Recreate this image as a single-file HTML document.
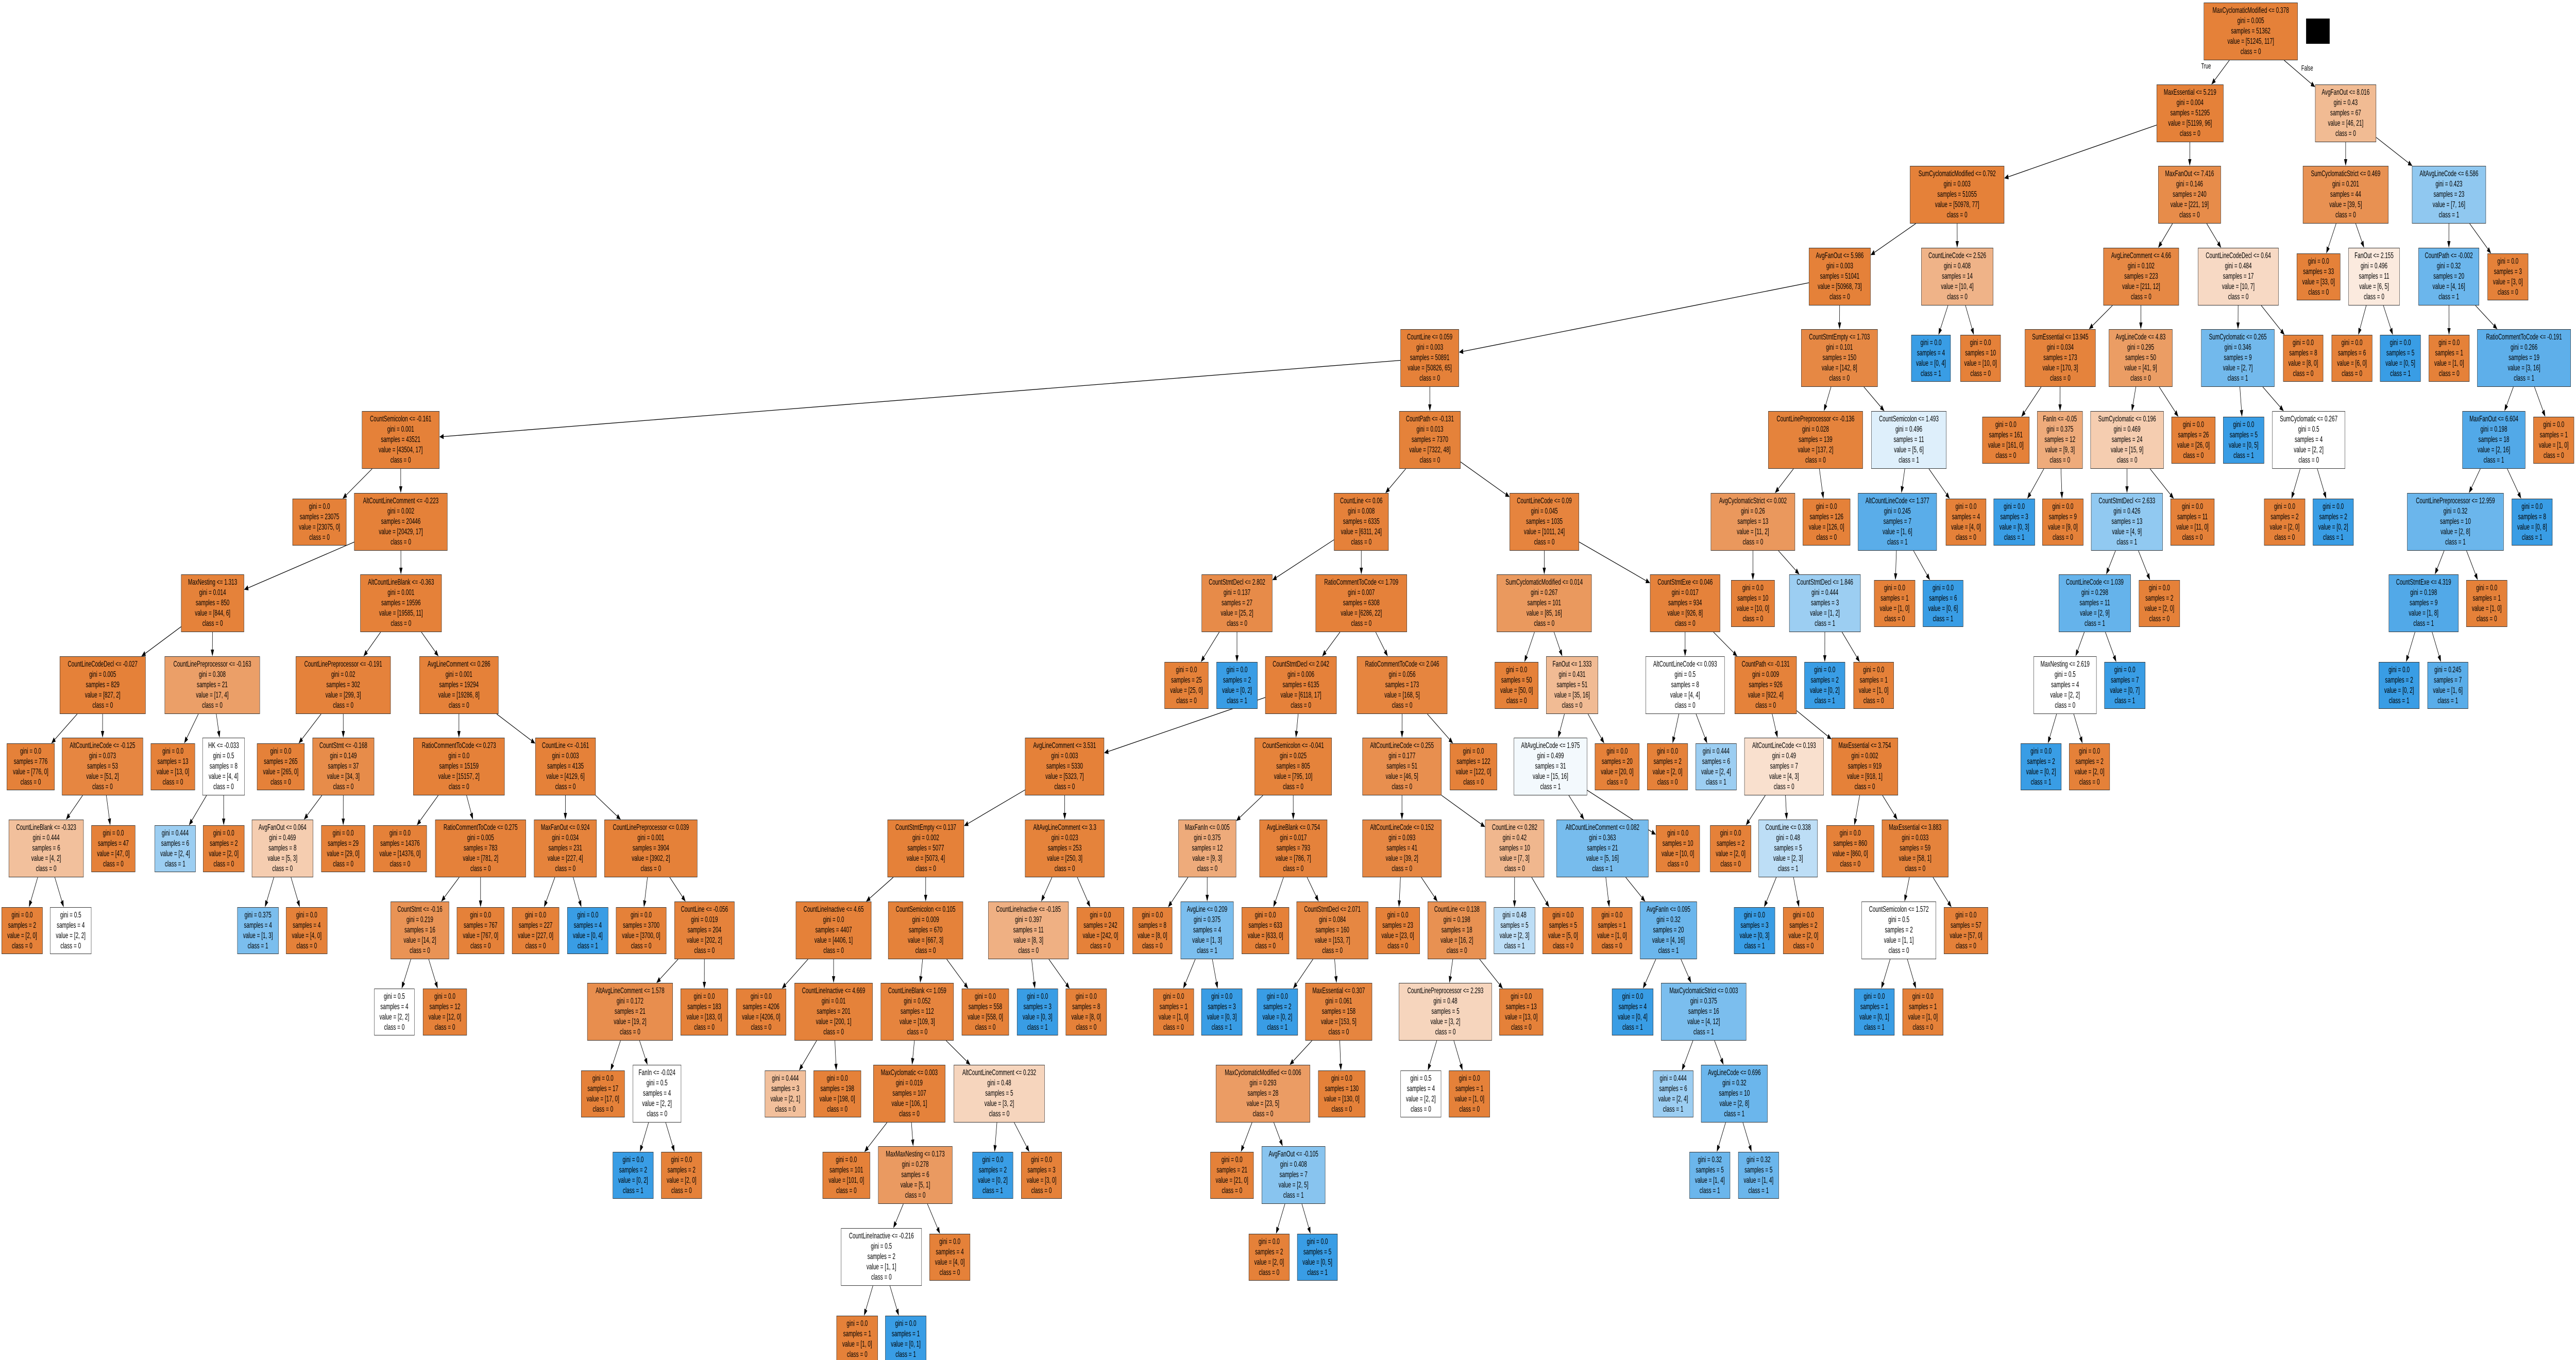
<!DOCTYPE html>
<html><head><meta charset="utf-8">
<style>
html,body{margin:0;padding:0;background:#fff;overflow:hidden}
#wrap{position:absolute;left:0;top:0;width:7979px;height:2640px;overflow:hidden;background:#fff;transform-origin:0 0}
.n,.l{position:absolute;box-sizing:border-box;border:1.4px solid #333;text-align:center;font:16px/20px "Liberation Sans",Arial,sans-serif;color:#000;white-space:nowrap;background:#e58139;padding-top:5px;z-index:2}
.n{height:112px}
.l{height:91px;margin-top:11px;padding-top:5px}
.d0{top:5px}.d1{top:164px}.d2{top:322px}.d3{top:481px}.d4{top:639px}.d5{top:798px}.d6{top:957px}.d7{top:1115px}.d8{top:1274px}.d9{top:1432px}.d10{top:1591px}.d11{top:1750px}.d12{top:1908px}.d13{top:2067px}.d14{top:2225px}.d15{top:2384px}.d16{top:2543px}
svg{position:absolute;left:0;top:0;z-index:1}
.lab{position:absolute;font:15px "Liberation Sans",Arial,sans-serif;z-index:3}
</style></head><body><div id="wrap">
<svg id="edges" width="7979" height="2640"></svg>
<div style="position:absolute;left:7143px;top:36px;width:73px;height:49px;background:#000"></div>
<div class="lab" style="left:6818px;top:120px">True</div>
<div class="lab" style="left:7128px;top:124px">False</div>

<div id="n0" class="n d0" style="left:6826px;width:291px">MaxCyclomaticModified &lt;= 0.378<br>gini = 0.005<br>samples = 51362<br>value = [51245, 117]<br>class = 0</div>
<div id="n1" class="n d1" style="left:6680px;width:207px">MaxEssential &lt;= 5.219<br>gini = 0.004<br>samples = 51295<br>value = [51199, 96]<br>class = 0</div>
<div id="n2" class="n d1" style="left:7171px;width:189px">AvgFanOut &lt;= 8.016<br>gini = 0.43<br>samples = 67<br>value = [46, 21]<br>class = 0</div>
<div id="n3" class="n d2" style="left:5916px;width:292px">SumCyclomaticModified &lt;= 0.792<br>gini = 0.003<br>samples = 51055<br>value = [50978, 77]<br>class = 0</div>
<div id="n4" class="n d2" style="left:6685px;width:194px">MaxFanOut &lt;= 7.416<br>gini = 0.146<br>samples = 240<br>value = [221, 19]<br>class = 0</div>
<div id="n5" class="n d2" style="left:7133px;width:265px">SumCyclomaticStrict &lt;= 0.469<br>gini = 0.201<br>samples = 44<br>value = [39, 5]<br>class = 0</div>
<div id="n6" class="n d2" style="left:7471px;width:229px">AltAvgLineCode &lt;= 6.586<br>gini = 0.423<br>samples = 23<br>value = [7, 16]<br>class = 1</div>
<div id="n7" class="n d3" style="left:5603px;width:191px">AvgFanOut &lt;= 5.986<br>gini = 0.003<br>samples = 51041<br>value = [50968, 73]<br>class = 0</div>
<div id="n8" class="n d3" style="left:5951px;width:223px">CountLineCode &lt;= 2.526<br>gini = 0.408<br>samples = 14<br>value = [10, 4]<br>class = 0</div>
<div id="n9" class="n d3" style="left:6515px;width:234px">AvgLineComment &lt;= 4.66<br>gini = 0.102<br>samples = 223<br>value = [211, 12]<br>class = 0</div>
<div id="n10" class="n d3" style="left:6808px;width:250px">CountLineCodeDecl &lt;= 0.64<br>gini = 0.484<br>samples = 17<br>value = [10, 7]<br>class = 0</div>
<div id="n11" class="l d3" style="left:7114px;width:135px">gini = 0.0<br>samples = 33<br>value = [33, 0]<br>class = 0</div>
<div id="n12" class="n d3" style="left:7274px;width:159px">FanOut &lt;= 2.155<br>gini = 0.496<br>samples = 11<br>value = [6, 5]<br>class = 0</div>
<div id="n13" class="n d3" style="left:7491px;width:188px">CountPath &lt;= -0.002<br>gini = 0.32<br>samples = 20<br>value = [4, 16]<br>class = 1</div>
<div id="n14" class="l d3" style="left:7705px;width:126px">gini = 0.0<br>samples = 3<br>value = [3, 0]<br>class = 0</div>
<div id="n15" class="n d4" style="left:5579px;width:237px">CountStmtEmpty &lt;= 1.703<br>gini = 0.101<br>samples = 150<br>value = [142, 8]<br>class = 0</div>
<div id="n16" class="n d4" style="left:4338px;width:181px">CountLine &lt;= 0.059<br>gini = 0.003<br>samples = 50891<br>value = [50826, 65]<br>class = 0</div>
<div id="n17" class="l d4" style="left:5920px;width:122px">gini = 0.0<br>samples = 4<br>value = [0, 4]<br>class = 1</div>
<div id="n18" class="l d4" style="left:6072px;width:125px">gini = 0.0<br>samples = 10<br>value = [10, 0]<br>class = 0</div>
<div id="n19" class="n d4" style="left:6272px;width:219px">SumEssential &lt;= 13.945<br>gini = 0.034<br>samples = 173<br>value = [170, 3]<br>class = 0</div>
<div id="n20" class="n d4" style="left:6532px;width:197px">AvgLineCode &lt;= 4.83<br>gini = 0.295<br>samples = 50<br>value = [41, 9]<br>class = 0</div>
<div id="n21" class="n d4" style="left:6818px;width:227px">SumCyclomatic &lt;= 0.265<br>gini = 0.346<br>samples = 9<br>value = [2, 7]<br>class = 1</div>
<div id="n22" class="l d4" style="left:7072px;width:124px">gini = 0.0<br>samples = 8<br>value = [8, 0]<br>class = 0</div>
<div id="n23" class="l d4" style="left:7222px;width:126px">gini = 0.0<br>samples = 6<br>value = [6, 0]<br>class = 0</div>
<div id="n24" class="l d4" style="left:7372px;width:126px">gini = 0.0<br>samples = 5<br>value = [0, 5]<br>class = 1</div>
<div id="n25" class="l d4" style="left:7523px;width:126px">gini = 0.0<br>samples = 1<br>value = [1, 0]<br>class = 0</div>
<div id="n26" class="n d4" style="left:7673px;width:290px">RatioCommentToCode &lt;= -0.191<br>gini = 0.266<br>samples = 19<br>value = [3, 16]<br>class = 1</div>
<div id="n27" class="n d5" style="left:4334px;width:190px">CountPath &lt;= -0.131<br>gini = 0.013<br>samples = 7370<br>value = [7322, 48]<br>class = 0</div>
<div id="n28" class="n d5" style="left:1121px;width:240px">CountSemicolon &lt;= -0.161<br>gini = 0.001<br>samples = 43521<br>value = [43504, 17]<br>class = 0</div>
<div id="n29" class="n d5" style="left:5477px;width:293px">CountLinePreprocessor &lt;= -0.136<br>gini = 0.028<br>samples = 139<br>value = [137, 2]<br>class = 0</div>
<div id="n30" class="n d5" style="left:5796px;width:233px">CountSemicolon &lt;= 1.493<br>gini = 0.496<br>samples = 11<br>value = [5, 6]<br>class = 1</div>
<div id="n31" class="l d5" style="left:6140px;width:146px">gini = 0.0<br>samples = 161<br>value = [161, 0]<br>class = 0</div>
<div id="n32" class="n d5" style="left:6310px;width:141px">FanIn &lt;= -0.05<br>gini = 0.375<br>samples = 12<br>value = [9, 3]<br>class = 0</div>
<div id="n33" class="n d5" style="left:6475px;width:227px">SumCyclomatic &lt;= 0.196<br>gini = 0.469<br>samples = 24<br>value = [15, 9]<br>class = 0</div>
<div id="n34" class="l d5" style="left:6726px;width:136px">gini = 0.0<br>samples = 26<br>value = [26, 0]<br>class = 0</div>
<div id="n35" class="l d5" style="left:6886px;width:127px">gini = 0.0<br>samples = 5<br>value = [0, 5]<br>class = 1</div>
<div id="n36" class="n d5" style="left:7038px;width:226px">SumCyclomatic &lt;= 0.267<br>gini = 0.5<br>samples = 4<br>value = [2, 2]<br>class = 0</div>
<div id="n37" class="n d5" style="left:7627px;width:195px">MaxFanOut &lt;= 6.604<br>gini = 0.198<br>samples = 18<br>value = [2, 16]<br>class = 1</div>
<div id="n38" class="l d5" style="left:7847px;width:126px">gini = 0.0<br>samples = 1<br>value = [1, 0]<br>class = 0</div>
<div id="n39" class="n d6" style="left:4132px;width:169px">CountLine &lt;= 0.06<br>gini = 0.008<br>samples = 6335<br>value = [6311, 24]<br>class = 0</div>
<div id="n40" class="n d6" style="left:4676px;width:215px">CountLineCode &lt;= 0.09<br>gini = 0.045<br>samples = 1035<br>value = [1011, 24]<br>class = 0</div>
<div id="n41" class="l d6" style="left:906px;width:167px">gini = 0.0<br>samples = 23075<br>value = [23075, 0]<br>class = 0</div>
<div id="n42" class="n d6" style="left:1097px;width:289px">AltCountLineComment &lt;= -0.223<br>gini = 0.002<br>samples = 20446<br>value = [20429, 17]<br>class = 0</div>
<div id="n43" class="n d6" style="left:5299px;width:261px">AvgCyclomaticStrict &lt;= 0.002<br>gini = 0.26<br>samples = 13<br>value = [11, 2]<br>class = 0</div>
<div id="n44" class="l d6" style="left:5584px;width:147px">gini = 0.0<br>samples = 126<br>value = [126, 0]<br>class = 0</div>
<div id="n45" class="n d6" style="left:5755px;width:244px">AltCountLineCode &lt;= 1.377<br>gini = 0.245<br>samples = 7<br>value = [1, 6]<br>class = 1</div>
<div id="n46" class="l d6" style="left:6027px;width:125px">gini = 0.0<br>samples = 4<br>value = [4, 0]<br>class = 0</div>
<div id="n47" class="l d6" style="left:6175px;width:128px">gini = 0.0<br>samples = 3<br>value = [0, 3]<br>class = 1</div>
<div id="n48" class="l d6" style="left:6326px;width:127px">gini = 0.0<br>samples = 9<br>value = [9, 0]<br>class = 0</div>
<div id="n49" class="n d6" style="left:6477px;width:222px">CountStmtDecl &lt;= 2.633<br>gini = 0.426<br>samples = 13<br>value = [4, 9]<br>class = 1</div>
<div id="n50" class="l d6" style="left:6723px;width:136px">gini = 0.0<br>samples = 11<br>value = [11, 0]<br>class = 0</div>
<div id="n51" class="l d6" style="left:7013px;width:127px">gini = 0.0<br>samples = 2<br>value = [2, 0]<br>class = 0</div>
<div id="n52" class="l d6" style="left:7164px;width:126px">gini = 0.0<br>samples = 2<br>value = [0, 2]<br>class = 1</div>
<div id="n53" class="n d6" style="left:7456px;width:299px">CountLinePreprocessor &lt;= 12.959<br>gini = 0.32<br>samples = 10<br>value = [2, 8]<br>class = 1</div>
<div id="n54" class="l d6" style="left:7780px;width:126px">gini = 0.0<br>samples = 8<br>value = [0, 8]<br>class = 1</div>
<div id="n55" class="n d7" style="left:561px;width:195px">MaxNesting &lt;= 1.313<br>gini = 0.014<br>samples = 850<br>value = [844, 6]<br>class = 0</div>
<div id="n56" class="n d7" style="left:1116px;width:252px">AltCountLineBlank &lt;= -0.363<br>gini = 0.001<br>samples = 19596<br>value = [19585, 11]<br>class = 0</div>
<div id="n57" class="n d7" style="left:3722px;width:219px">CountStmtDecl &lt;= 2.802<br>gini = 0.137<br>samples = 27<br>value = [25, 2]<br>class = 0</div>
<div id="n58" class="n d7" style="left:4075px;width:283px">RatioCommentToCode &lt;= 1.709<br>gini = 0.007<br>samples = 6308<br>value = [6286, 22]<br>class = 0</div>
<div id="n59" class="n d7" style="left:4636px;width:294px">SumCyclomaticModified &lt;= 0.014<br>gini = 0.267<br>samples = 101<br>value = [85, 16]<br>class = 0</div>
<div id="n60" class="n d7" style="left:5111px;width:217px">CountStmtExe &lt;= 0.046<br>gini = 0.017<br>samples = 934<br>value = [926, 8]<br>class = 0</div>
<div id="n61" class="l d7" style="left:5362px;width:135px">gini = 0.0<br>samples = 10<br>value = [10, 0]<br>class = 0</div>
<div id="n62" class="n d7" style="left:5542px;width:221px">CountStmtDecl &lt;= 1.846<br>gini = 0.444<br>samples = 3<br>value = [1, 2]<br>class = 1</div>
<div id="n63" class="l d7" style="left:5805px;width:127px">gini = 0.0<br>samples = 1<br>value = [1, 0]<br>class = 0</div>
<div id="n64" class="l d7" style="left:5956px;width:125px">gini = 0.0<br>samples = 6<br>value = [0, 6]<br>class = 1</div>
<div id="n65" class="n d7" style="left:6377px;width:223px">CountLineCode &lt;= 1.039<br>gini = 0.298<br>samples = 11<br>value = [2, 9]<br>class = 1</div>
<div id="n66" class="l d7" style="left:6625px;width:127px">gini = 0.0<br>samples = 2<br>value = [2, 0]<br>class = 0</div>
<div id="n67" class="n d7" style="left:7399px;width:216px">CountStmtExe &lt;= 4.319<br>gini = 0.198<br>samples = 9<br>value = [1, 8]<br>class = 1</div>
<div id="n68" class="l d7" style="left:7639px;width:127px">gini = 0.0<br>samples = 1<br>value = [1, 0]<br>class = 0</div>
<div id="n69" class="n d8" style="left:185px;width:266px">CountLineCodeDecl &lt;= -0.027<br>gini = 0.005<br>samples = 829<br>value = [827, 2]<br>class = 0</div>
<div id="n70" class="n d8" style="left:510px;width:295px">CountLinePreprocessor &lt;= -0.163<br>gini = 0.308<br>samples = 21<br>value = [17, 4]<br>class = 0</div>
<div id="n71" class="n d8" style="left:916px;width:294px">CountLinePreprocessor &lt;= -0.191<br>gini = 0.02<br>samples = 302<br>value = [299, 3]<br>class = 0</div>
<div id="n72" class="n d8" style="left:1299px;width:245px">AvgLineComment &lt;= 0.286<br>gini = 0.001<br>samples = 19294<br>value = [19286, 8]<br>class = 0</div>
<div id="n73" class="l d8" style="left:3607px;width:136px">gini = 0.0<br>samples = 25<br>value = [25, 0]<br>class = 0</div>
<div id="n74" class="l d8" style="left:3768px;width:127px">gini = 0.0<br>samples = 2<br>value = [0, 2]<br>class = 1</div>
<div id="n75" class="n d8" style="left:3919px;width:221px">CountStmtDecl &lt;= 2.042<br>gini = 0.006<br>samples = 6135<br>value = [6118, 17]<br>class = 0</div>
<div id="n76" class="n d8" style="left:4203px;width:280px">RatioCommentToCode &lt;= 2.046<br>gini = 0.056<br>samples = 173<br>value = [168, 5]<br>class = 0</div>
<div id="n77" class="l d8" style="left:4630px;width:135px">gini = 0.0<br>samples = 50<br>value = [50, 0]<br>class = 0</div>
<div id="n78" class="n d8" style="left:4789px;width:161px">FanOut &lt;= 1.333<br>gini = 0.431<br>samples = 51<br>value = [35, 16]<br>class = 0</div>
<div id="n79" class="n d8" style="left:5097px;width:245px">AltCountLineCode &lt;= 0.093<br>gini = 0.5<br>samples = 8<br>value = [4, 4]<br>class = 0</div>
<div id="n80" class="n d8" style="left:5373px;width:192px">CountPath &lt;= -0.131<br>gini = 0.009<br>samples = 926<br>value = [922, 4]<br>class = 0</div>
<div id="n81" class="l d8" style="left:5589px;width:126px">gini = 0.0<br>samples = 2<br>value = [0, 2]<br>class = 1</div>
<div id="n82" class="l d8" style="left:5741px;width:125px">gini = 0.0<br>samples = 1<br>value = [1, 0]<br>class = 0</div>
<div id="n83" class="n d8" style="left:6299px;width:195px">MaxNesting &lt;= 2.619<br>gini = 0.5<br>samples = 4<br>value = [2, 2]<br>class = 0</div>
<div id="n84" class="l d8" style="left:6518px;width:127px">gini = 0.0<br>samples = 7<br>value = [0, 7]<br>class = 1</div>
<div id="n85" class="l d8" style="left:7368px;width:126px">gini = 0.0<br>samples = 2<br>value = [0, 2]<br>class = 1</div>
<div id="n86" class="l d8" style="left:7519px;width:126px">gini = 0.245<br>samples = 7<br>value = [1, 6]<br>class = 1</div>
<div id="n87" class="l d9" style="left:21px;width:148px">gini = 0.0<br>samples = 776<br>value = [776, 0]<br>class = 0</div>
<div id="n88" class="n d9" style="left:192px;width:251px">AltCountLineCode &lt;= -0.125<br>gini = 0.073<br>samples = 53<br>value = [51, 2]<br>class = 0</div>
<div id="n89" class="l d9" style="left:467px;width:137px">gini = 0.0<br>samples = 13<br>value = [13, 0]<br>class = 0</div>
<div id="n90" class="n d9" style="left:627px;width:131px">HK &lt;= -0.033<br>gini = 0.5<br>samples = 8<br>value = [4, 4]<br>class = 0</div>
<div id="n91" class="l d9" style="left:796px;width:147px">gini = 0.0<br>samples = 265<br>value = [265, 0]<br>class = 0</div>
<div id="n92" class="n d9" style="left:968px;width:191px">CountStmt &lt;= -0.168<br>gini = 0.149<br>samples = 37<br>value = [34, 3]<br>class = 0</div>
<div id="n93" class="n d9" style="left:1280px;width:283px">RatioCommentToCode &lt;= 0.273<br>gini = 0.0<br>samples = 15159<br>value = [15157, 2]<br>class = 0</div>
<div id="n94" class="n d9" style="left:1658px;width:187px">CountLine &lt;= -0.161<br>gini = 0.003<br>samples = 4135<br>value = [4129, 6]<br>class = 0</div>
<div id="n95" class="n d9" style="left:3175px;width:245px">AvgLineComment &lt;= 3.531<br>gini = 0.003<br>samples = 5330<br>value = [5323, 7]<br>class = 0</div>
<div id="n96" class="n d9" style="left:3886px;width:239px">CountSemicolon &lt;= -0.041<br>gini = 0.025<br>samples = 805<br>value = [795, 10]<br>class = 0</div>
<div id="n97" class="n d9" style="left:4220px;width:245px">AltCountLineCode &lt;= 0.255<br>gini = 0.177<br>samples = 51<br>value = [46, 5]<br>class = 0</div>
<div id="n98" class="l d9" style="left:4491px;width:146px">gini = 0.0<br>samples = 122<br>value = [122, 0]<br>class = 0</div>
<div id="n99" class="n d9" style="left:4689px;width:227px">AltAvgLineCode &lt;= 1.975<br>gini = 0.499<br>samples = 31<br>value = [15, 16]<br>class = 1</div>
<div id="n100" class="l d9" style="left:4940px;width:138px">gini = 0.0<br>samples = 20<br>value = [20, 0]<br>class = 0</div>
<div id="n101" class="l d9" style="left:5102px;width:126px">gini = 0.0<br>samples = 2<br>value = [2, 0]<br>class = 0</div>
<div id="n102" class="l d9" style="left:5252px;width:127px">gini = 0.444<br>samples = 6<br>value = [2, 4]<br>class = 1</div>
<div id="n103" class="n d9" style="left:5403px;width:246px">AltCountLineCode &lt;= 0.193<br>gini = 0.49<br>samples = 7<br>value = [4, 3]<br>class = 0</div>
<div id="n104" class="n d9" style="left:5673px;width:206px">MaxEssential &lt;= 3.754<br>gini = 0.002<br>samples = 919<br>value = [918, 1]<br>class = 0</div>
<div id="n105" class="l d9" style="left:6259px;width:126px">gini = 0.0<br>samples = 2<br>value = [0, 2]<br>class = 1</div>
<div id="n106" class="l d9" style="left:6409px;width:126px">gini = 0.0<br>samples = 2<br>value = [2, 0]<br>class = 0</div>
<div id="n107" class="n d10" style="left:27px;width:232px">CountLineBlank &lt;= -0.323<br>gini = 0.444<br>samples = 6<br>value = [4, 2]<br>class = 0</div>
<div id="n108" class="l d10" style="left:283px;width:136px">gini = 0.0<br>samples = 47<br>value = [47, 0]<br>class = 0</div>
<div id="n109" class="l d10" style="left:479px;width:127px">gini = 0.444<br>samples = 6<br>value = [2, 4]<br>class = 1</div>
<div id="n110" class="l d10" style="left:629px;width:128px">gini = 0.0<br>samples = 2<br>value = [2, 0]<br>class = 0</div>
<div id="n111" class="n d10" style="left:780px;width:190px">AvgFanOut &lt;= 0.064<br>gini = 0.469<br>samples = 8<br>value = [5, 3]<br>class = 0</div>
<div id="n112" class="l d10" style="left:995px;width:136px">gini = 0.0<br>samples = 29<br>value = [29, 0]<br>class = 0</div>
<div id="n113" class="l d10" style="left:1156px;width:166px">gini = 0.0<br>samples = 14376<br>value = [14376, 0]<br>class = 0</div>
<div id="n114" class="n d10" style="left:1348px;width:281px">RatioCommentToCode &lt;= 0.275<br>gini = 0.005<br>samples = 783<br>value = [781, 2]<br>class = 0</div>
<div id="n115" class="n d10" style="left:1654px;width:194px">MaxFanOut &lt;= 0.924<br>gini = 0.034<br>samples = 231<br>value = [227, 4]<br>class = 0</div>
<div id="n116" class="n d10" style="left:1872px;width:288px">CountLinePreprocessor &lt;= 0.039<br>gini = 0.001<br>samples = 3904<br>value = [3902, 2]<br>class = 0</div>
<div id="n117" class="n d10" style="left:2749px;width:237px">CountStmtEmpty &lt;= 0.137<br>gini = 0.002<br>samples = 5077<br>value = [5073, 4]<br>class = 0</div>
<div id="n118" class="n d10" style="left:3175px;width:246px">AltAvgLineComment &lt;= 3.3<br>gini = 0.023<br>samples = 253<br>value = [250, 3]<br>class = 0</div>
<div id="n119" class="n d10" style="left:3650px;width:179px">MaxFanIn &lt;= 0.005<br>gini = 0.375<br>samples = 12<br>value = [9, 3]<br>class = 0</div>
<div id="n120" class="n d10" style="left:3901px;width:210px">AvgLineBlank &lt;= 0.754<br>gini = 0.017<br>samples = 793<br>value = [786, 7]<br>class = 0</div>
<div id="n121" class="n d10" style="left:4220px;width:245px">AltCountLineCode &lt;= 0.152<br>gini = 0.093<br>samples = 41<br>value = [39, 2]<br>class = 0</div>
<div id="n122" class="n d10" style="left:4600px;width:183px">CountLine &lt;= 0.282<br>gini = 0.42<br>samples = 10<br>value = [7, 3]<br>class = 0</div>
<div id="n123" class="n d10" style="left:4821px;width:285px">AltCountLineComment &lt;= 0.082<br>gini = 0.363<br>samples = 21<br>value = [5, 16]<br>class = 1</div>
<div id="n124" class="l d10" style="left:5129px;width:136px">gini = 0.0<br>samples = 10<br>value = [10, 0]<br>class = 0</div>
<div id="n125" class="l d10" style="left:5297px;width:127px">gini = 0.0<br>samples = 2<br>value = [2, 0]<br>class = 0</div>
<div id="n126" class="n d10" style="left:5447px;width:183px">CountLine &lt;= 0.338<br>gini = 0.48<br>samples = 5<br>value = [2, 3]<br>class = 1</div>
<div id="n127" class="l d10" style="left:5657px;width:148px">gini = 0.0<br>samples = 860<br>value = [860, 0]<br>class = 0</div>
<div id="n128" class="n d10" style="left:5829px;width:206px">MaxEssential &lt;= 3.883<br>gini = 0.033<br>samples = 59<br>value = [58, 1]<br>class = 0</div>
<div id="n129" class="l d11" style="left:5px;width:127px">gini = 0.0<br>samples = 2<br>value = [2, 0]<br>class = 0</div>
<div id="n130" class="l d11" style="left:155px;width:128px">gini = 0.5<br>samples = 4<br>value = [2, 2]<br>class = 0</div>
<div id="n131" class="l d11" style="left:735px;width:128px">gini = 0.375<br>samples = 4<br>value = [1, 3]<br>class = 1</div>
<div id="n132" class="l d11" style="left:886px;width:128px">gini = 0.0<br>samples = 4<br>value = [4, 0]<br>class = 0</div>
<div id="n133" class="n d11" style="left:1210px;width:181px">CountStmt &lt;= -0.16<br>gini = 0.219<br>samples = 16<br>value = [14, 2]<br>class = 0</div>
<div id="n134" class="l d11" style="left:1415px;width:147px">gini = 0.0<br>samples = 767<br>value = [767, 0]<br>class = 0</div>
<div id="n135" class="l d11" style="left:1586px;width:146px">gini = 0.0<br>samples = 227<br>value = [227, 0]<br>class = 0</div>
<div id="n136" class="l d11" style="left:1757px;width:127px">gini = 0.0<br>samples = 4<br>value = [0, 4]<br>class = 1</div>
<div id="n137" class="l d11" style="left:1908px;width:156px">gini = 0.0<br>samples = 3700<br>value = [3700, 0]<br>class = 0</div>
<div id="n138" class="n d11" style="left:2089px;width:186px">CountLine &lt;= -0.056<br>gini = 0.019<br>samples = 204<br>value = [202, 2]<br>class = 0</div>
<div id="n139" class="n d11" style="left:2465px;width:234px">CountLineInactive &lt;= 4.65<br>gini = 0.0<br>samples = 4407<br>value = [4406, 1]<br>class = 0</div>
<div id="n140" class="n d11" style="left:2751px;width:232px">CountSemicolon &lt;= 0.105<br>gini = 0.009<br>samples = 670<br>value = [667, 3]<br>class = 0</div>
<div id="n141" class="n d11" style="left:3061px;width:249px">CountLineInactive &lt;= -0.185<br>gini = 0.397<br>samples = 11<br>value = [8, 3]<br>class = 0</div>
<div id="n142" class="l d11" style="left:3335px;width:147px">gini = 0.0<br>samples = 242<br>value = [242, 0]<br>class = 0</div>
<div id="n143" class="l d11" style="left:3508px;width:123px">gini = 0.0<br>samples = 8<br>value = [8, 0]<br>class = 0</div>
<div id="n144" class="n d11" style="left:3657px;width:164px">AvgLine &lt;= 0.209<br>gini = 0.375<br>samples = 4<br>value = [1, 3]<br>class = 1</div>
<div id="n145" class="l d11" style="left:3846px;width:147px">gini = 0.0<br>samples = 633<br>value = [633, 0]<br>class = 0</div>
<div id="n146" class="n d11" style="left:4016px;width:222px">CountStmtDecl &lt;= 2.071<br>gini = 0.084<br>samples = 160<br>value = [153, 7]<br>class = 0</div>
<div id="n147" class="l d11" style="left:4261px;width:137px">gini = 0.0<br>samples = 23<br>value = [23, 0]<br>class = 0</div>
<div id="n148" class="n d11" style="left:4422px;width:181px">CountLine &lt;= 0.138<br>gini = 0.198<br>samples = 18<br>value = [16, 2]<br>class = 0</div>
<div id="n149" class="l d11" style="left:4627px;width:128px">gini = 0.48<br>samples = 5<br>value = [2, 3]<br>class = 1</div>
<div id="n150" class="l d11" style="left:4778px;width:127px">gini = 0.0<br>samples = 5<br>value = [5, 0]<br>class = 0</div>
<div id="n151" class="l d11" style="left:4930px;width:126px">gini = 0.0<br>samples = 1<br>value = [1, 0]<br>class = 0</div>
<div id="n152" class="n d11" style="left:5080px;width:176px">AvgFanIn &lt;= 0.095<br>gini = 0.32<br>samples = 20<br>value = [4, 16]<br>class = 1</div>
<div id="n153" class="l d11" style="left:5371px;width:127px">gini = 0.0<br>samples = 3<br>value = [0, 3]<br>class = 1</div>
<div id="n154" class="l d11" style="left:5523px;width:126px">gini = 0.0<br>samples = 2<br>value = [2, 0]<br>class = 0</div>
<div id="n155" class="n d11" style="left:5766px;width:231px">CountSemicolon &lt;= 1.572<br>gini = 0.5<br>samples = 2<br>value = [1, 1]<br>class = 0</div>
<div id="n156" class="l d11" style="left:6021px;width:137px">gini = 0.0<br>samples = 57<br>value = [57, 0]<br>class = 0</div>
<div id="n157" class="l d12" style="left:1159px;width:125px">gini = 0.5<br>samples = 4<br>value = [2, 2]<br>class = 0</div>
<div id="n158" class="l d12" style="left:1310px;width:136px">gini = 0.0<br>samples = 12<br>value = [12, 0]<br>class = 0</div>
<div id="n159" class="n d12" style="left:1819px;width:265px">AltAvgLineComment &lt;= 1.578<br>gini = 0.172<br>samples = 21<br>value = [19, 2]<br>class = 0</div>
<div id="n160" class="l d12" style="left:2108px;width:147px">gini = 0.0<br>samples = 183<br>value = [183, 0]<br>class = 0</div>
<div id="n161" class="l d12" style="left:2280px;width:155px">gini = 0.0<br>samples = 4206<br>value = [4206, 0]<br>class = 0</div>
<div id="n162" class="n d12" style="left:2461px;width:242px">CountLineInactive &lt;= 4.669<br>gini = 0.01<br>samples = 201<br>value = [200, 1]<br>class = 0</div>
<div id="n163" class="n d12" style="left:2728px;width:226px">CountLineBlank &lt;= 1.059<br>gini = 0.052<br>samples = 112<br>value = [109, 3]<br>class = 0</div>
<div id="n164" class="l d12" style="left:2979px;width:146px">gini = 0.0<br>samples = 558<br>value = [558, 0]<br>class = 0</div>
<div id="n165" class="l d12" style="left:3150px;width:127px">gini = 0.0<br>samples = 3<br>value = [0, 3]<br>class = 1</div>
<div id="n166" class="l d12" style="left:3301px;width:127px">gini = 0.0<br>samples = 8<br>value = [8, 0]<br>class = 0</div>
<div id="n167" class="l d12" style="left:3572px;width:126px">gini = 0.0<br>samples = 1<br>value = [1, 0]<br>class = 0</div>
<div id="n168" class="l d12" style="left:3721px;width:127px">gini = 0.0<br>samples = 3<br>value = [0, 3]<br>class = 1</div>
<div id="n169" class="l d12" style="left:3893px;width:127px">gini = 0.0<br>samples = 2<br>value = [0, 2]<br>class = 1</div>
<div id="n170" class="n d12" style="left:4043px;width:207px">MaxEssential &lt;= 0.307<br>gini = 0.061<br>samples = 158<br>value = [153, 5]<br>class = 0</div>
<div id="n171" class="n d12" style="left:4333px;width:288px">CountLinePreprocessor &lt;= 2.293<br>gini = 0.48<br>samples = 5<br>value = [3, 2]<br>class = 0</div>
<div id="n172" class="l d12" style="left:4644px;width:136px">gini = 0.0<br>samples = 13<br>value = [13, 0]<br>class = 0</div>
<div id="n173" class="l d12" style="left:4993px;width:128px">gini = 0.0<br>samples = 4<br>value = [0, 4]<br>class = 1</div>
<div id="n174" class="n d12" style="left:5145px;width:264px">MaxCyclomaticStrict &lt;= 0.003<br>gini = 0.375<br>samples = 16<br>value = [4, 12]<br>class = 1</div>
<div id="n175" class="l d12" style="left:5743px;width:125px">gini = 0.0<br>samples = 1<br>value = [0, 1]<br>class = 1</div>
<div id="n176" class="l d12" style="left:5893px;width:126px">gini = 0.0<br>samples = 1<br>value = [1, 0]<br>class = 0</div>
<div id="n177" class="l d13" style="left:1800px;width:135px">gini = 0.0<br>samples = 17<br>value = [17, 0]<br>class = 0</div>
<div id="n178" class="n d13" style="left:1960px;width:150px">FanIn &lt;= -0.024<br>gini = 0.5<br>samples = 4<br>value = [2, 2]<br>class = 0</div>
<div id="n179" class="l d13" style="left:2369px;width:127px">gini = 0.444<br>samples = 3<br>value = [2, 1]<br>class = 0</div>
<div id="n180" class="l d13" style="left:2520px;width:147px">gini = 0.0<br>samples = 198<br>value = [198, 0]<br>class = 0</div>
<div id="n181" class="n d13" style="left:2705px;width:223px">MaxCyclomatic &lt;= 0.003<br>gini = 0.019<br>samples = 107<br>value = [106, 1]<br>class = 0</div>
<div id="n182" class="n d13" style="left:2954px;width:282px">AltCountLineComment &lt;= 0.232<br>gini = 0.48<br>samples = 5<br>value = [3, 2]<br>class = 0</div>
<div id="n183" class="n d13" style="left:3766px;width:292px">MaxCyclomaticModified &lt;= 0.006<br>gini = 0.293<br>samples = 28<br>value = [23, 5]<br>class = 0</div>
<div id="n184" class="l d13" style="left:4083px;width:146px">gini = 0.0<br>samples = 130<br>value = [130, 0]<br>class = 0</div>
<div id="n185" class="l d13" style="left:4338px;width:126px">gini = 0.5<br>samples = 4<br>value = [2, 2]<br>class = 0</div>
<div id="n186" class="l d13" style="left:4488px;width:127px">gini = 0.0<br>samples = 1<br>value = [1, 0]<br>class = 0</div>
<div id="n187" class="l d13" style="left:5120px;width:125px">gini = 0.444<br>samples = 6<br>value = [2, 4]<br>class = 1</div>
<div id="n188" class="n d13" style="left:5269px;width:206px">AvgLineCode &lt;= 0.696<br>gini = 0.32<br>samples = 10<br>value = [2, 8]<br>class = 1</div>
<div id="n189" class="l d14" style="left:1898px;width:126px">gini = 0.0<br>samples = 2<br>value = [0, 2]<br>class = 1</div>
<div id="n190" class="l d14" style="left:2048px;width:126px">gini = 0.0<br>samples = 2<br>value = [2, 0]<br>class = 0</div>
<div id="n191" class="l d14" style="left:2548px;width:147px">gini = 0.0<br>samples = 101<br>value = [101, 0]<br>class = 0</div>
<div id="n192" class="n d14" style="left:2720px;width:230px">MaxMaxNesting &lt;= 0.173<br>gini = 0.278<br>samples = 6<br>value = [5, 1]<br>class = 0</div>
<div id="n193" class="l d14" style="left:3012px;width:126px">gini = 0.0<br>samples = 2<br>value = [0, 2]<br>class = 1</div>
<div id="n194" class="l d14" style="left:3163px;width:126px">gini = 0.0<br>samples = 3<br>value = [3, 0]<br>class = 0</div>
<div id="n195" class="l d14" style="left:3749px;width:134px">gini = 0.0<br>samples = 21<br>value = [21, 0]<br>class = 0</div>
<div id="n196" class="n d14" style="left:3908px;width:197px">AvgFanOut &lt;= -0.105<br>gini = 0.408<br>samples = 7<br>value = [2, 5]<br>class = 1</div>
<div id="n197" class="l d14" style="left:5233px;width:126px">gini = 0.32<br>samples = 5<br>value = [1, 4]<br>class = 1</div>
<div id="n198" class="l d14" style="left:5384px;width:126px">gini = 0.32<br>samples = 5<br>value = [1, 4]<br>class = 1</div>
<div id="n199" class="n d15" style="left:2605px;width:250px">CountLineInactive &lt;= -0.216<br>gini = 0.5<br>samples = 2<br>value = [1, 1]<br>class = 0</div>
<div id="n200" class="l d15" style="left:2879px;width:126px">gini = 0.0<br>samples = 4<br>value = [4, 0]<br>class = 0</div>
<div id="n201" class="l d15" style="left:3868px;width:126px">gini = 0.0<br>samples = 2<br>value = [2, 0]<br>class = 0</div>
<div id="n202" class="l d15" style="left:4018px;width:125px">gini = 0.0<br>samples = 5<br>value = [0, 5]<br>class = 1</div>
<div id="n203" class="l d16" style="left:2591px;width:128px">gini = 0.0<br>samples = 1<br>value = [1, 0]<br>class = 0</div>
<div id="n204" class="l d16" style="left:2742px;width:127px">gini = 0.0<br>samples = 1<br>value = [0, 1]<br>class = 1</div>
</div>
<script>
(function(){
  var PP=[0,1,2,3,4,5,6,7,8,9,10,12,13,16,15,19,20,21,26,27,28,29,30,32,33,36,37,42,39,40,43,45,49,53,55,56,57,58,59,60,62,65,67,69,70,71,72,75,76,78,79,80,83,88,90,92,93,94,95,96,97,99,103,104,107,111,114,115,116,117,118,119,120,121,122,123,126,128,133,138,139,140,141,144,146,148,152,155,159,162,163,170,171,174,178,181,182,183,188,192,196,199];
  var N=205, i;
  for(i=0;i<N;i++){
    var el=document.getElementById('n'+i); if(!el) continue;
    var m=el.innerHTML.match(/value = \[(\d+), (\d+)\]/);
    if(!m) continue;
    var a=+m[1], b=+m[2], mx=Math.max(a,b), mn=Math.min(a,b);
    var al=mx? (mx-mn)/mx : 0;
    var c= a>=b ? [229,129,57] : [57,157,229];
    var rgb=c.map(function(v){return Math.round(al*v+(1-al)*255);});
    el.style.background='rgb('+rgb.join(',')+')';
  }
  function box(id){var e=document.getElementById('n'+id);
    var x=e.offsetLeft,y=e.offsetTop,w=e.offsetWidth,h=e.offsetHeight;
    return {cx:x+w/2,cy:y+h/2,hw:w/2,hh:h/2};}
  function clipT(b,dx,dy){var t1=dx?b.hw/Math.abs(dx):1e9, t2=dy?b.hh/Math.abs(dy):1e9; return Math.min(t1,t2);}
  var svg=document.getElementById('edges'), s='';
  for(i=1;i<N;i++){
    var p=PP[Math.floor((i-1)/2)];
    var A=box(p),B=box(i);
    var dx=B.cx-A.cx, dy=B.cy-A.cy;
    var ta=clipT(A,dx,dy), tb=clipT(B,dx,dy);
    var x1=A.cx+dx*ta, y1=A.cy+dy*ta, x2=B.cx-dx*tb, y2=B.cy-dy*tb;
    var L=Math.sqrt((x2-x1)*(x2-x1)+(y2-y1)*(y2-y1)); if(L<1) continue;
    var ux=(x2-x1)/L, uy=(y2-y1)/L, al=13, aw=5;
    var bx=x2-ux*al, by=y2-uy*al;
    s+='<line x1="'+x1.toFixed(1)+'" y1="'+y1.toFixed(1)+'" x2="'+bx.toFixed(1)+'" y2="'+by.toFixed(1)+'" stroke="#000" stroke-width="1.3"/>';
    s+='<polygon points="'+x2.toFixed(1)+','+y2.toFixed(1)+' '+(bx-uy*aw).toFixed(1)+','+(by+ux*aw).toFixed(1)+' '+(bx+uy*aw).toFixed(1)+','+(by-ux*aw).toFixed(1)+'" fill="#000"/>';
  }
  svg.innerHTML=s;
  function fit(){
    var w=window.innerWidth||document.documentElement.clientWidth||7979;
    var h=window.innerHeight||document.documentElement.clientHeight||2640;
    var sx=w/7979, sy=h/2640;
    var wr=document.getElementById('wrap');
    if(Math.abs(sx-1)>0.01||Math.abs(sy-1)>0.01){wr.style.transform='scale('+sx+','+sy+')';}
    else{wr.style.transform='none';}
  }
  fit();
})();
</script>
</body></html>
